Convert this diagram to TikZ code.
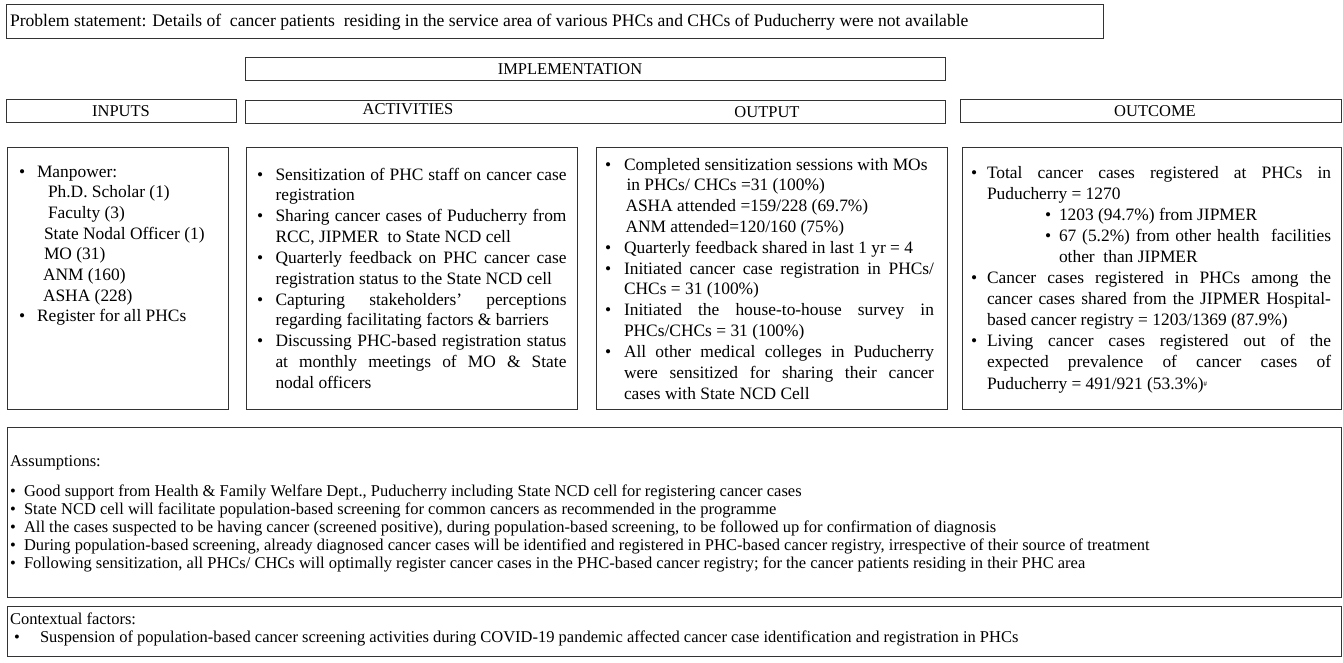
\documentclass[tikz,border=0pt]{standalone}
\usepackage{fontspec}
\setmainfont{Liberation Serif}
\newcounter{lnc}
\newcommand\cfont{\fontsize{17.4}{20.8}\selectfont}
\newcommand\afont{\fontsize{16.5}{18}\selectfont}
\newcommand\hfont{\fontsize{16.5}{20}\selectfont}
\newcommand\pfont{\fontsize{17.6}{20}\selectfont}
% text line: [font]{x}{y}{text}
\newcommand\tl[4][\cfont]{\stepcounter{lnc}\node[txt,font=#1] (t\arabic{lnc}) at (#2,#3) {#4};}
% bullet: [font]{x}{y}
\newcommand\bu[3][\cfont]{\stepcounter{lnc}\node[txt,font=#1] (b\arabic{lnc}) at (#2,#3) {\textbullet};}
% justified line of given width
\newcommand\js[2]{\makebox[#1pt][s]{#2}}
\tikzset{
  txt/.style={anchor=base west, inner sep=0pt, outer sep=0pt},
  frame/.style={draw=black!80, line width=1.3pt, anchor=north west, inner sep=0pt},
  htext/.style={anchor=base, inner sep=0pt, font=\hfont}
}
\begin{document}
\begin{tikzpicture}[x=1pt,y=-1pt]
\useasboundingbox (0,0) rectangle (1343,662);
% frames
\node[frame, minimum width=1097pt, minimum height=34pt] (prob) at (6,4) {};
\node[frame, minimum width=700pt, minimum height=23pt] (impl) at (245,57) {};
\node[frame, minimum width=230pt, minimum height=23pt] (hin) at (6,99) {};
\node[frame, minimum width=700pt, minimum height=23pt] (hact) at (245,100) {};
\node[frame, minimum width=381pt, minimum height=23pt] (hout) at (960,99) {};
\node[frame, minimum width=221pt, minimum height=262pt] (inbox) at (7,147) {};
\node[frame, minimum width=331pt, minimum height=262pt] (actbox) at (246,147) {};
\node[frame, minimum width=351pt, minimum height=262pt] (outbox) at (596,147) {};
\node[frame, minimum width=379pt, minimum height=262pt] (ocbox) at (962,147) {};
\node[frame, minimum width=1334pt, minimum height=170pt] (assum) at (7,427) {};
\node[frame, minimum width=1334pt, minimum height=50pt] (ctx) at (7,606) {};

% problem statement
\tl[\pfont]{10}{26}{Problem statement: Details of \ cancer patients \ residing in the service area of various PHCs and CHCs of Puducherry were not available}
% headers
\node[htext] (himpl) at (570,74) {IMPLEMENTATION};
\node[htext] (hinputs) at (121,116) {INPUTS};
\node[htext] (hactiv) at (408,114) {ACTIVITIES};
\node[htext] (houtput) at (767,117) {OUTPUT};
\node[htext] (houtcome) at (1155,116) {OUTCOME};

% inputs
\bu{19}{177}\tl{37}{177}{Manpower:}
\tl{48}{197.7}{Ph.D. Scholar (1)}
\tl{48}{218.4}{Faculty (3)}
\tl{44}{239.1}{State Nodal Officer (1)}
\tl{44}{259.8}{MO (31)}
\tl{43}{280.5}{ANM (160)}
\tl{43}{301.2}{ASHA (228)}
\bu{19}{321.9}\tl{37}{321.9}{Register for all PHCs}

% activities
\bu{257}{180}\tl{275.5}{180}{\js{291}{Sensitization of PHC staff on cancer case}}
\tl{275.5}{200.8}{registration}
\bu{257}{221.7}\tl{275.5}{221.7}{\js{291}{Sharing cancer cases of Puducherry from}}
\tl{275.5}{242.5}{RCC, JIPMER \ to State NCD cell}
\bu{257}{263.3}\tl{275.5}{263.3}{\js{291}{Quarterly feedback on PHC cancer case}}
\tl{275.5}{284.2}{registration status to the State NCD cell}
\bu{257}{305}\tl{275.5}{305}{\js{291}{Capturing stakeholders’ perceptions}}
\tl{275.5}{325.8}{regarding facilitating factors \& barriers}
\bu{257}{346.7}\tl{275.5}{346.7}{\js{291}{Discussing PHC-based registration status}}
\tl{275.5}{367.5}{\js{291}{at monthly meetings of MO \& State}}
\tl{275.5}{388.3}{nodal officers}

% output
\bu{605}{170}\tl{624}{170}{Completed sensitization sessions with MOs}
\tl{626.5}{190.8}{in PHCs/ CHCs =31 (100\%)}
\tl{625.5}{211.6}{ASHA attended =159/228 (69.7\%)}
\tl{625.5}{232.5}{ANM attended=120/160 (75\%)}
\bu{605}{253.3}\tl{624}{253.3}{Quarterly feedback shared in last 1 yr = 4}
\bu{605}{274.1}\tl{624}{274.1}{\js{310}{Initiated cancer case registration in PHCs/}}
\tl{624}{294.9}{CHCs = 31 (100\%)}
\bu{605}{315.7}\tl{624}{315.7}{\js{310}{Initiated the house-to-house survey in}}
\tl{624}{336.5}{PHCs/CHCs = 31 (100\%)}
\bu{605}{357.4}\tl{624}{357.4}{\js{310}{All other medical colleges in Puducherry}}
\tl{624}{378.2}{\js{310}{were sensitized for sharing their cancer}}
\tl{624}{399}{cases with State NCD Cell}

% outcome
\bu{971}{178}\tl{987}{178}{\js{344}{Total cancer cases registered at PHCs in}}
\tl{987}{199.1}{Puducherry = 1270}
\bu{1045}{220.2}\tl{1059}{220.2}{1203 (94.7\%) from JIPMER}
\bu{1045}{241.3}\tl{1059}{241.3}{\js{272}{67 (5.2\%) from other health \ facilities}}
\tl{1059}{262.4}{other \ than JIPMER}
\bu{971}{283.5}\tl{987}{283.5}{\js{344}{Cancer cases registered in PHCs among the}}
\tl{987}{304.6}{\js{344}{cancer cases shared from the JIPMER Hospital-}}
\tl{987}{325.7}{based cancer registry = 1203/1369 (87.9\%)}
\bu{971}{346.8}\tl{987}{346.8}{\js{344}{Living cancer cases registered out of the}}
\tl{987}{367.9}{\js{344}{expected prevalence of cancer cases of}}
\tl{987}{389}{Puducherry = 491/921 (53.3\%)\raisebox{0.3ex}{\fontsize{7}{8}\selectfont\#}}

% assumptions
\tl[\afont]{10}{466}{Assumptions:}
\bu[\afont]{10}{496}\tl[\afont]{24}{496}{Good support from Health \& Family Welfare Dept., Puducherry including State NCD cell for registering cancer cases}
\bu[\afont]{10}{514}\tl[\afont]{24}{514}{State NCD cell will facilitate population-based screening for common cancers as recommended in the programme}
\bu[\afont]{10}{532}\tl[\afont]{24}{532}{All the cases suspected to be having cancer (screened positive), during population-based screening, to be followed up for confirmation of diagnosis}
\bu[\afont]{10}{550}\tl[\afont]{24}{550}{During population-based screening, already diagnosed cancer cases will be identified and registered in PHC-based cancer registry, irrespective of their source of treatment}
\bu[\afont]{10}{568}\tl[\afont]{24}{568}{Following sensitization, all PHCs/ CHCs will optimally register cancer cases in the PHC-based cancer registry; for the cancer patients residing in their PHC area}

% contextual
\tl[\afont]{10}{624}{Contextual factors:}
\bu[\afont]{14}{642}\tl[\afont]{40}{642}{Suspension of population-based cancer screening activities during COVID-19 pandemic affected cancer case identification and registration in PHCs}
\end{tikzpicture}
\end{document}
